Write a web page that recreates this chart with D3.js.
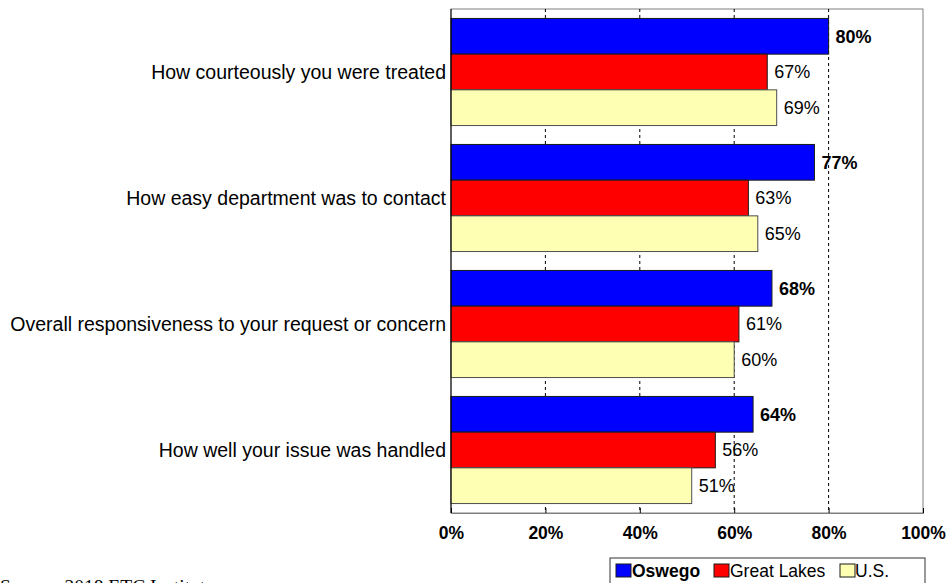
<!DOCTYPE html>
<html>
<head>
<meta charset="utf-8">
<script src="https://cdn.jsdelivr.net/npm/d3@7/dist/d3.min.js"></script>
<style>
  html, body { margin: 0; padding: 0; background: #fff; }
  svg { display: block; }
</style>
</head>
<body>
<svg id="chart" width="949" height="583"></svg>
<script>
// Survey items, top to bottom
const categories = [
  "How courteously you were treated",
  "How easy department was to contact",
  "Overall responsiveness to your request or concern",
  "How well your issue was handled"
];
const seriesNames = ["Oswego", "Great Lakes", "U.S."];
const oswego = [80, 77, 68, 64];
const greatLakes = [67, 63, 61, 56];
const us = [69, 65, 60, 51];
const tickValues = [0, 20, 40, 60, 80, 100];
const colors = ["#0000ff", "#ff0000", "#ffffb3"];
const strokes = ["#1a1a1a", "#1a1a1a", "#4d4d4d"];

const seriesValues = [oswego, greatLakes, us];

const svg = d3.select("#chart");
const plot = { left: 451, right: 923, top: 9, bottom: 513 };
const sans = "Liberation Sans, Arial, sans-serif";

const x = d3.scaleLinear().domain([0, 100]).range([plot.left, plot.right]);
const y0 = d3.scaleBand().domain(categories).range([plot.top, plot.bottom]).paddingInner(0.15).paddingOuter(0.075);
const y1 = d3.scaleBand().domain(seriesNames).range([0, y0.bandwidth()]);

// plot frame
svg.append("rect")
  .attr("x", plot.left).attr("y", plot.top)
  .attr("width", plot.right - plot.left).attr("height", plot.bottom - plot.top)
  .attr("fill", "#fff").attr("stroke", "#7f7f7f").attr("stroke-width", 1);

// dashed vertical gridlines
svg.append("g")
  .selectAll("line")
  .data(tickValues.filter(t => t > 0 && t < 100))
  .join("line")
  .attr("x1", d => x(d)).attr("x2", d => x(d))
  .attr("y1", plot.top).attr("y2", plot.bottom)
  .attr("stroke", "#000").attr("stroke-width", 1)
  .attr("stroke-dasharray", "3,3");

// bars
const groups = svg.append("g")
  .selectAll("g")
  .data(categories)
  .join("g")
  .attr("transform", d => `translate(0,${y0(d)})`);

groups.selectAll("rect")
  .data((d, i) => seriesNames.map((s, j) => ({ s, j, v: seriesValues[j][i] })))
  .join("rect")
  .attr("x", x(0))
  .attr("y", d => y1(d.s))
  .attr("width", d => x(d.v) - x(0))
  .attr("height", y1.bandwidth())
  .attr("fill", d => colors[d.j])
  .attr("stroke", d => strokes[d.j])
  .attr("stroke-width", 1);

// value labels
groups.selectAll("text")
  .data((d, i) => seriesNames.map((s, j) => ({ s, j, v: seriesValues[j][i] })))
  .join("text")
  .attr("x", d => x(d.v) + 7)
  .attr("y", d => y1(d.s) + y1.bandwidth() / 2)
  .attr("dy", "0.36em")
  .attr("font-family", sans)
  .attr("font-size", 18)
  .attr("font-weight", d => d.j === 0 ? "bold" : "normal")
  .attr("fill", "#000")
  .text(d => d.v + "%");

// y axis line
svg.append("line")
  .attr("x1", plot.left).attr("x2", plot.left)
  .attr("y1", plot.top).attr("y2", plot.bottom)
  .attr("stroke", "#000");

// category labels
svg.append("g")
  .selectAll("text")
  .data(categories)
  .join("text")
  .attr("x", plot.left - 5)
  .attr("y", d => y0(d) + y0.bandwidth() / 2)
  .attr("dy", "0.36em")
  .attr("text-anchor", "end")
  .attr("font-family", sans)
  .attr("font-size", 19.5)
  .attr("fill", "#000")
  .text(d => d);

// x axis
const xAxis = d3.axisBottom(x)
  .tickValues(tickValues)
  .tickSize(-5)
  .tickPadding(14)
  .tickFormat(d => d + "%");

const gx = svg.append("g")
  .attr("transform", `translate(0,${plot.bottom})`)
  .call(xAxis);
gx.select(".domain").attr("stroke", "#7f7f7f");
gx.selectAll(".tick line").attr("stroke", "#000");
gx.selectAll(".tick text")
  .attr("font-family", sans)
  .attr("font-size", 17.5)
  .attr("font-weight", "bold")
  .attr("fill", "#000");

// legend
const legend = svg.append("g");
legend.append("rect")
  .attr("x", 610).attr("y", 558).attr("width", 315).attr("height", 40)
  .attr("fill", "#fff").attr("stroke", "#333");
const legendItems = [
  { name: seriesNames[0], sx: 616, tx: 632, bold: true },
  { name: seriesNames[1], sx: 714, tx: 730, bold: false },
  { name: seriesNames[2], sx: 840, tx: 855, bold: false }
];
legendItems.forEach((it, i) => {
  legend.append("rect")
    .attr("x", it.sx).attr("y", 564).attr("width", 15).attr("height", 13)
    .attr("fill", colors[i]).attr("stroke", "#1a1a1a");
  legend.append("text")
    .attr("x", it.tx).attr("y", 577)
    .attr("font-family", sans)
    .attr("font-size", 17.5)
    .attr("font-weight", it.bold ? "bold" : "normal")
    .attr("fill", "#000")
    .text(it.name);
});

// source note
svg.append("text")
  .attr("x", 0).attr("y", 593)
  .attr("font-family", "Liberation Serif, Times New Roman, serif")
  .attr("font-size", 19.5)
  .attr("fill", "#000")
  .text("Source: 2018 ETC Institute");
</script>
</body>
</html>
